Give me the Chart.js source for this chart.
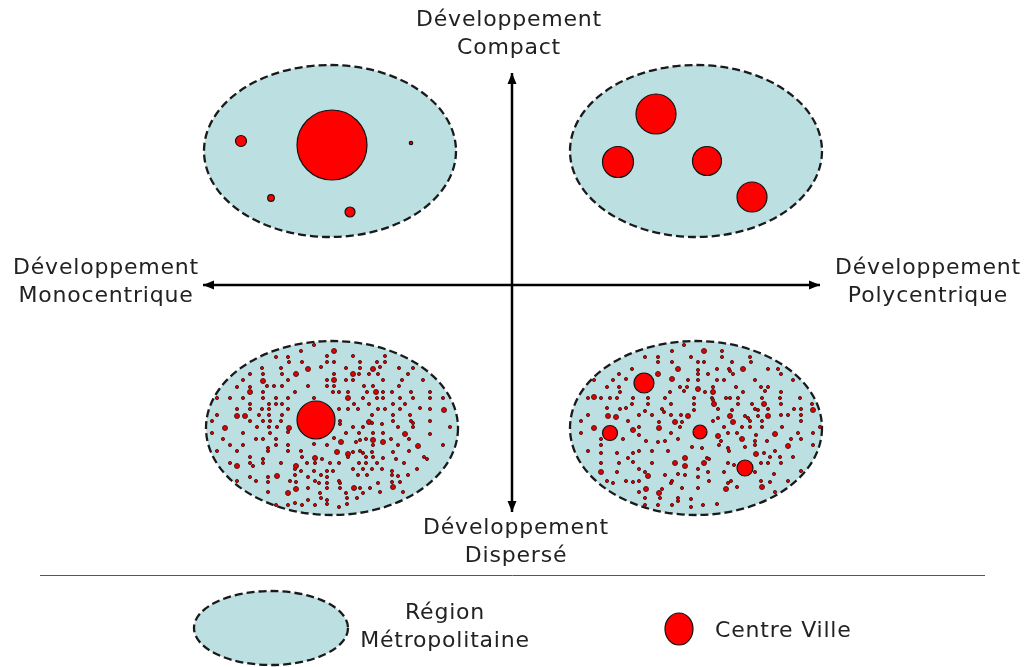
<!DOCTYPE html>
<html>
<head>
<meta charset="utf-8">
<script src="https://cdn.jsdelivr.net/npm/chart.js@4"></script>
<style>
  html, body { margin: 0; padding: 0; background: #fff; }
  #wrap { width: 1027px; height: 667px; }
</style>
</head>
<body>
<div id="wrap"><canvas id="chart" width="1027" height="667"></canvas></div>
<script>
// --- données du schéma (repère 0..1027 x 0..667, y vers le bas) ---

// régions métropolitaines (ellipses)
const regionX  = [330, 696, 332, 696];
const regionY  = [151, 151, 428, 428];
const regionRX = [126, 126, 126, 126];
const regionRY = [86, 86, 87, 87];

// axes
const axisCenterX = 512;
const axisCenterY = 285;
const axisLeftRight = [203, 820];
const axisTopBottom = [73, 512];

// centres-villes : développement compact monocentrique
const compactMonoX = [332, 241, 411, 271, 350];
const compactMonoY = [145, 141, 143, 198, 212];
const compactMonoR = [35, 5.5, 1.7, 3.3, 5];

// compact polycentrique
const compactPolyX = [656, 618, 707, 752];
const compactPolyY = [114, 162, 161, 197];
const compactPolyR = [20, 15.5, 14.5, 15];

// dispersé monocentrique
const dispMonoX = [316];
const dispMonoY = [420];
const dispMonoR = [19];

// dispersé polycentrique
const dispPolyX = [644, 610, 700, 745];
const dispPolyY = [383, 433, 432, 468];
const dispPolyR = [10, 7.5, 7, 8];

// petits points (urbanisation diffuse) - gauche
const leftDots = [
  [314,345],[301,351],[276,357],[288,357],[327,356],[353,356],[385,356],
  [289,362],[302,362],[327,362],[334,362],[360,362],[377,362],[385,362],
  [262,368],[281,368],[321,367],[346,368],[360,368],[380,367],[399,368],[413,368],
  [250,374],[263,374],[282,374],[334,374],[359,374],[369,374],[378,374],[408,374],
  [243,380],[288,380],[327,380],[346,380],[353,380],[383,380],[402,380],[423,380],
  [237,387],[250,387],[267,386],[274,386],[282,386],[308,386],[327,386],[334,386],[364,386],[373,386],[399,386],
  [263,392],[295,392],[333,392],[339,392],[348,392],[367,392],[383,392],[392,392],[411,392],[430,392],
  [217,398],[230,398],[243,398],[263,398],[276,398],[288,398],[314,398],[363,398],[377,398],[383,398],[400,398],[413,398],[430,398],[443,398],
  [250,404],[269,404],[276,404],[282,404],[354,404],[369,404],[393,404],[405,404],
  [237,409],[250,409],[262,409],[269,409],[288,409],[339,409],[348,409],[358,409],[378,409],[385,409],[400,409],[420,408],[430,409],
  [217,415],[259,415],[269,415],[282,415],[372,415],[393,415],[410,415],
  [212,421],[250,421],[263,421],[270,421],[281,421],[340,421],[372,423],[382,424],[393,421],[411,421],[413,423],[430,421],
  [257,427],[269,427],[277,427],[340,424],[353,427],[363,427],[398,427],[413,427],[450,427],
  [212,433],[243,433],[270,433],[288,432],[346,433],[359,433],[373,433],[383,433],[430,434],
  [223,439],[256,439],[263,439],[276,439],[334,438],[360,440],[366,439],[391,439],[409,439],
  [230,445],[243,445],[276,445],[288,445],[314,444],[327,445],[356,442],[373,445],[398,445],[443,445],
  [217,451],[237,451],[268,448],[268,451],[288,451],[301,451],[353,452],[360,451],[363,453],[372,452],[393,452],[409,451],
  [250,457],[263,459],[302,457],[322,459],[348,457],[366,457],[373,457],[383,458],[396,459],[424,457],[427,459],
  [230,463],[250,463],[263,463],[281,463],[307,463],[315,463],[330,463],[339,463],[359,463],[366,463],[377,463],[404,463],
  [253,466],[295,469],[301,471],[314,471],[327,471],[333,471],[353,469],[363,469],[372,469],[382,469],[392,471],[417,469],
  [237,481],[250,477],[256,481],[268,477],[295,475],[308,477],[321,475],[327,477],[339,481],[340,483],[358,475],[367,475],[392,475],[398,476],[408,475],
  [268,482],[290,481],[296,482],[315,481],[319,483],[327,483],[378,483],[392,482],[400,482],
  [268,492],[308,488],[327,488],[340,488],[360,488],[370,488],[380,492],
  [320,493],[346,493],[363,493],[403,492],
  [308,500],[321,498],[327,500],[347,498],[357,498],
  [276,505],[288,505],[295,503],[302,505],[315,505],[327,504],[339,507],[347,504]
];
const leftDotsMid = [
  [334,351],[308,369],[373,369],[296,374],[353,374],[263,381],[334,380],[250,392],[376,392],[348,398],
  [444,410],[237,416],[245,416],[369,422],[225,428],[289,428],[405,434],[373,440],[383,442],[341,442],
  [418,446],[337,452],[348,454],[315,458],[237,466],[296,466],[277,476],[296,489],[354,488],[393,487],[288,493]
];

// petits points - droite
const rightDots = [
  [684,345],[672,351],[722,351],
  [645,357],[658,357],[691,357],[722,357],[750,357],
  [658,362],[672,362],[698,362],[704,362],[732,362],[751,362],
  [632,369],[698,370],[717,369],[729,369],[730,371],[768,369],[778,369],
  [619,374],[698,374],[708,374],[733,374],[781,374],
  [594,380],[613,380],[626,379],[688,380],[698,380],[717,380],[724,380],[755,380],[793,380],
  [607,387],[619,387],[680,387],[687,387],[713,387],[736,387],[761,387],[768,387],
  [620,392],[670,392],[684,391],[705,392],[743,392],[765,391],[781,392],
  [588,398],[601,398],[610,398],[617,398],[633,398],[648,398],[665,398],[694,398],[712,398],[713,400],[726,398],[730,398],[738,398],[762,398],[780,398],[800,398],
  [607,408],[632,404],[648,404],[671,404],[694,404],[738,404],[752,404],[781,404],[812,404],
  [620,409],[626,408],[645,411],[662,409],[664,412],[694,410],[718,409],[732,410],[755,409],[758,410],[768,409],[794,409],[801,409],
  [588,415],[639,415],[652,415],[671,415],[681,415],[718,418],[745,416],[748,418],[758,416],[781,415],[788,415],[801,415],
  [581,421],[628,421],[659,422],[682,422],[713,421],[750,421],[762,421],[801,421],
  [639,427],[680,427],[724,427],[742,427],[750,427],[762,427],[782,427],[820,427],
  [581,433],[639,435],[671,433],[728,433],[737,433],[756,435],[798,433],[813,433],
  [601,439],[623,439],[646,441],[658,442],[665,441],[678,439],[721,441],[755,441],[767,441],[791,439],[801,439],
  [601,445],[719,445],[728,448],[729,451],[692,447],[702,448],[745,447],[755,445],[813,445],
  [588,451],[617,453],[633,453],[639,451],[652,451],[668,451],[764,453],[775,451],[601,453],
  [628,458],[633,462],[707,458],[709,459],[770,457],[780,457],[793,457],
  [601,463],[619,463],[652,463],[728,463],[734,465],[748,463],[761,463],[768,463],[781,463],
  [617,472],[639,469],[645,472],[665,475],[678,474],[698,469],[708,472],[724,472],[755,472],[774,474],[801,471],
  [607,481],[613,483],[626,481],[633,482],[639,481],[672,481],[671,483],[685,475],[698,477],[709,481],[728,483],[731,481],[761,481],[788,481],[770,482],
  [662,489],[682,488],[698,488],[737,487],[775,492],[639,492],
  [645,498],[660,498],[678,498],[678,501],[691,499],[717,504],[703,505],[645,505],[658,505],[672,505],[691,507]
];
const rightDotsMid = [
  [704,351],[678,369],[743,369],[658,374],[672,379],[698,389],[713,392],[594,397],[714,404],[764,404],
  [813,410],[608,416],[616,417],[688,416],[730,416],[768,416],[675,422],[733,422],[594,428],[633,430],
  [659,428],[718,436],[775,434],[742,439],[788,446],[756,454],[685,458],[675,463],[685,466],[704,463],
  [601,472],[648,476],[646,489],[659,493],[762,487],[726,489]
];

// textes
const axisLabels = [
  { x: 509, y: 20, lines: ['Développement', 'Compact'] },
  { x: 106, y: 268, lines: ['Développement', 'Monocentrique'] },
  { x: 928, y: 268, lines: ['Développement', 'Polycentrique'] },
  { x: 516, y: 528, lines: ['Développement', 'Dispersé'] }
];
const legendLabels = ['Région', 'Métropolitaine', 'Centre Ville'];

// légende
const legendRegion = { x: 271, y: 628, rx: 77, ry: 37 };
const legendTown = { x: 679, y: 629, rx: 14, ry: 16 };

const FILL = '#bcdfe2';
const RED = '#ff0000';
const FONT = '22px "DejaVu Sans"';
const DASH = [8, 4];

function toBubbles(xs, ys, rs) {
  return xs.map((x, i) => ({ x: x, y: ys[i], r: rs[i] }));
}
function dotsToBubbles(list, r) {
  return list.map(p => ({ x: p[0], y: p[1], r: r }));
}

function pathEllipse(ctx, sx, sy, cx, cy, rx, ry) {
  const px = sx.getPixelForValue(cx);
  const py = sy.getPixelForValue(cy);
  const prx = Math.abs(sx.getPixelForValue(cx + rx) - px);
  const pry = Math.abs(sy.getPixelForValue(cy + ry) - py);
  ctx.beginPath();
  ctx.ellipse(px, py, prx, pry, 0, 0, Math.PI * 2);
}

function arrowHead(ctx, x, y, dx, dy) {
  // pointe en (x,y), direction (dx,dy)
  const len = 11, half = 4.5;
  const bx = x - dx * len, by = y - dy * len;
  ctx.beginPath();
  ctx.moveTo(x, y);
  ctx.lineTo(bx - dy * half, by + dx * half);
  ctx.lineTo(bx + dy * half, by - dx * half);
  ctx.closePath();
  ctx.fill();
}

// ellipses sous les points
const regionsPlugin = {
  id: 'regions',
  beforeDatasetsDraw(chart) {
    const ctx = chart.ctx, sx = chart.scales.x, sy = chart.scales.y;
    ctx.save();
    for (let i = 0; i < regionX.length; i++) {
      pathEllipse(ctx, sx, sy, regionX[i], regionY[i], regionRX[i], regionRY[i]);
      ctx.fillStyle = FILL;
      ctx.fill();
      ctx.setLineDash(DASH);
      ctx.lineWidth = 2.3;
      ctx.strokeStyle = '#1a1a1a';
      ctx.stroke();
    }
    ctx.restore();
  }
};

// flèches, textes, séparateur, légende
const decorPlugin = {
  id: 'decor',
  afterDraw(chart) {
    const ctx = chart.ctx, sx = chart.scales.x, sy = chart.scales.y;
    ctx.save();
    ctx.fillStyle = '#000';
    const cx = sx.getPixelForValue(axisCenterX), cy = sy.getPixelForValue(axisCenterY);
    arrowHead(ctx, sx.getPixelForValue(axisLeftRight[0]), cy, -1, 0);
    arrowHead(ctx, sx.getPixelForValue(axisLeftRight[1]), cy, 1, 0);
    arrowHead(ctx, cx, sy.getPixelForValue(axisTopBottom[0]), 0, -1);
    arrowHead(ctx, cx, sy.getPixelForValue(axisTopBottom[1]), 0, 1);

    // textes des axes
    ctx.font = FONT;
    ctx.letterSpacing = '0.8px';
    ctx.fillStyle = '#222';
    ctx.textAlign = 'center';
    ctx.textBaseline = 'middle';
    axisLabels.forEach(lab => {
      lab.lines.forEach((t, k) => {
        ctx.fillText(t, sx.getPixelForValue(lab.x), sy.getPixelForValue(lab.y + k * 28));
      });
    });

    // séparateur
    ctx.strokeStyle = '#555';
    ctx.lineWidth = 1;
    ctx.beginPath();
    ctx.moveTo(sx.getPixelForValue(40), sy.getPixelForValue(575.5));
    ctx.lineTo(sx.getPixelForValue(985), sy.getPixelForValue(575.5));
    ctx.stroke();

    // légende
    pathEllipse(ctx, sx, sy, legendRegion.x, legendRegion.y, legendRegion.rx, legendRegion.ry);
    ctx.fillStyle = FILL;
    ctx.fill();
    ctx.setLineDash(DASH);
    ctx.lineWidth = 2.3;
    ctx.strokeStyle = '#1a1a1a';
    ctx.stroke();
    ctx.setLineDash([]);

    pathEllipse(ctx, sx, sy, legendTown.x, legendTown.y, legendTown.rx, legendTown.ry);
    ctx.fillStyle = RED;
    ctx.fill();
    ctx.lineWidth = 1.2;
    ctx.strokeStyle = '#111';
    ctx.stroke();

    ctx.fillStyle = '#222';
    ctx.fillText(legendLabels[0], sx.getPixelForValue(445), sy.getPixelForValue(613));
    ctx.fillText(legendLabels[1], sx.getPixelForValue(445), sy.getPixelForValue(641));
    ctx.textAlign = 'left';
    ctx.fillText(legendLabels[2], sx.getPixelForValue(715), sy.getPixelForValue(631));
    ctx.restore();
  }
};

const townStyle = {
  type: 'bubble',
  backgroundColor: RED,
  borderColor: '#111',
  borderWidth: 1.2,
  order: 0
};
const dotStyle = {
  type: 'bubble',
  backgroundColor: '#e30000',
  borderColor: '#4a1010',
  borderWidth: 0.9,
  order: 1
};

new Chart(document.getElementById('chart'), {
  type: 'bubble',
  data: {
    datasets: [
      Object.assign({ label: 'compact mono', data: toBubbles(compactMonoX, compactMonoY, compactMonoR) }, townStyle),
      Object.assign({ label: 'compact poly', data: toBubbles(compactPolyX, compactPolyY, compactPolyR) }, townStyle),
      Object.assign({ label: 'disp mono', data: toBubbles(dispMonoX, dispMonoY, dispMonoR) }, townStyle),
      Object.assign({ label: 'disp poly', data: toBubbles(dispPolyX, dispPolyY, dispPolyR) }, townStyle),
      Object.assign({ label: 'diffus g', data: dotsToBubbles(leftDots, 1.6) }, dotStyle),
      Object.assign({ label: 'diffus g2', data: dotsToBubbles(leftDotsMid, 2.5) }, dotStyle),
      Object.assign({ label: 'diffus d', data: dotsToBubbles(rightDots, 1.6) }, dotStyle),
      Object.assign({ label: 'diffus d2', data: dotsToBubbles(rightDotsMid, 2.5) }, dotStyle),
      {
        type: 'line', label: 'axe h', order: 2,
        data: [{ x: axisLeftRight[0], y: axisCenterY }, { x: axisLeftRight[1], y: axisCenterY }],
        borderColor: '#000', borderWidth: 2.5, pointRadius: 0, fill: false
      },
      {
        type: 'line', label: 'axe v', order: 2,
        data: [{ x: axisCenterX, y: axisTopBottom[0] }, { x: axisCenterX, y: axisTopBottom[1] }],
        borderColor: '#000', borderWidth: 2.5, pointRadius: 0, fill: false
      }
    ]
  },
  options: {
    responsive: false,
    animation: false,
    devicePixelRatio: 1,
    layout: { padding: 0, autoPadding: false },
    clip: false,
    scales: {
      x: { type: 'linear', min: 0, max: 1027, display: false },
      y: { type: 'linear', min: 0, max: 667, reverse: true, display: false }
    },
    plugins: {
      legend: { display: false },
      tooltip: { enabled: false }
    }
  },
  plugins: [regionsPlugin, decorPlugin]
});
</script>
</body>
</html>
